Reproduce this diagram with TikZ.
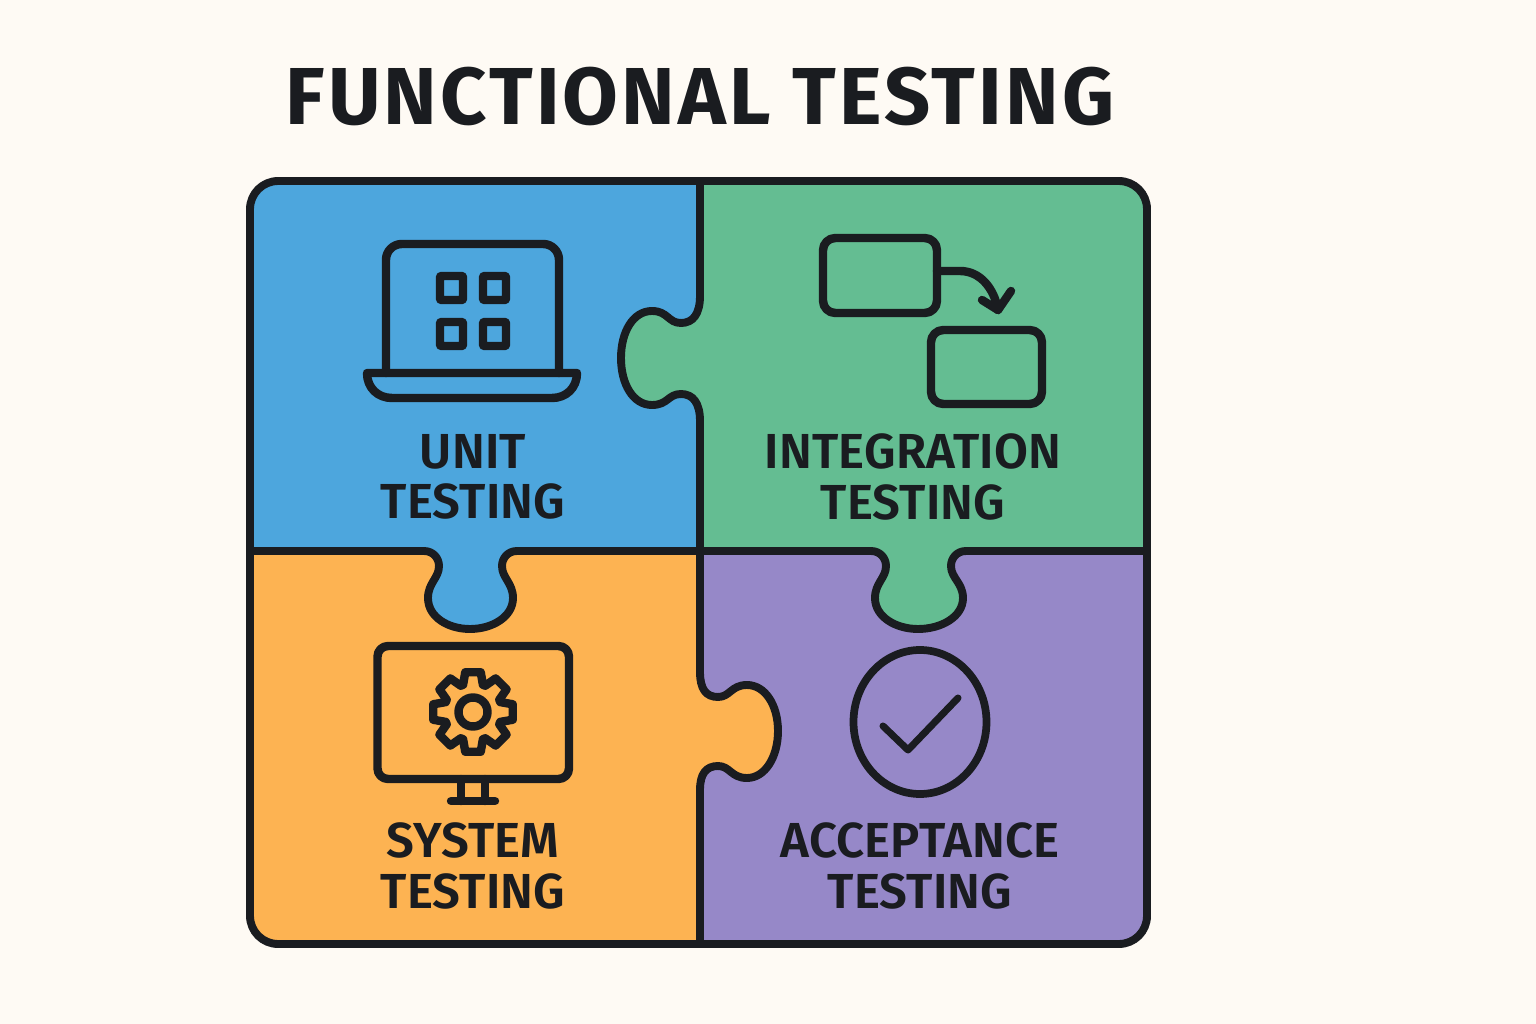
\documentclass[tikz,border=0pt]{standalone}
\usepackage{fontspec}
\setmainfont{Fira Sans}[BoldFont={Fira Sans SemiBold}]
\newfontfamily\titlefont{Fira Sans}[LetterSpace=3.8]
\usepackage{xcolor}
\definecolor{pagebg}{HTML}{FEFAF4}
\definecolor{ink}{HTML}{1A1C20}
\definecolor{unitblue}{HTML}{4DA6DD}
\definecolor{integgreen}{HTML}{64BD92}
\definecolor{systemorange}{HTML}{FDB352}
\definecolor{acceptpurple}{HTML}{9688C8}
\tikzset{
  outline/.style={draw=ink, line width=4.5pt, line join=round},
  icon/.style={draw=ink, line width=4.8pt, line join=round, line cap=round},
  heading/.style={text=ink, font=\fontsize{46}{46}\titlefont\bfseries},
  piecelabel/.style={text=ink, align=center, font=\fontsize{28}{28.5}\selectfont\bfseries\addfontfeature{LetterSpace=0.4}}
}
\def\tabright{(700,296) .. controls (700,314) and (693,323) .. (681,323) .. controls (668,323) and (668,311) .. (652,311) .. controls (633,311) and (621,332) .. (621,358) .. controls (621,384) and (633,405) .. (652,405) .. controls (668,405) and (668,394) .. (681,394) .. controls (693,394) and (700,403) .. (700,421)}
\def\tabblue{(424,551) .. controls (433,551) and (439,558) .. (439,566) .. controls (439,578) and (428,583) .. (428,598) .. controls (428,617) and (448,629) .. (470,629) .. controls (492,629) and (513,617) .. (513,598) .. controls (513,583) and (502,578) .. (502,566) .. controls (502,558) and (508,551) .. (517,551)}
\def\tabgreen{(871,551) .. controls (880,551) and (886,558) .. (886,566) .. controls (886,578) and (875,583) .. (875,598) .. controls (875,617) and (896,629) .. (918,629) .. controls (941,629) and (963,617) .. (963,598) .. controls (963,583) and (951,578) .. (951,566) .. controls (951,558) and (957,551) .. (966,551)}
\def\taborange{(700,672) .. controls (700,689) and (706,697) .. (718,697) .. controls (730,697) and (731,685) .. (747,685) .. controls (765,685) and (778,705) .. (778,731) .. controls (778,757) and (765,778) .. (747,778) .. controls (731,778) and (730,766) .. (718,766) .. controls (706,766) and (700,774) .. (700,790)}
\begin{document}
\begin{tikzpicture}[x=0.02cm, y=-0.02cm]
\useasboundingbox (0,0) rectangle (1536,1024);
\fill[pagebg] (0,0) rectangle (1536,1024);
\node[heading] (title) at (700,96) {FUNCTIONAL TESTING};
% pieces
\begin{scope}
\clip[rounded corners=16pt] (250,181) rectangle (1147,944);
\fill[unitblue] (250,181) rectangle (700,551);
\fill[integgreen] (700,181) rectangle (1147,551);
\fill[systemorange] (250,551) rectangle (700,944);
\fill[acceptpurple] (700,551) rectangle (1147,944);
\end{scope}
\fill[integgreen] \tabright -- cycle;
\fill[unitblue] \tabblue -- cycle;
\fill[integgreen] \tabgreen -- cycle;
\fill[systemorange] \taborange -- cycle;
% seams
\draw[outline] (700,181) -- \tabright -- (700,551) -- \taborange -- (700,944);
\draw[outline] (250,551) -- \tabblue -- (700,551) -- \tabgreen -- (1147,551);
\draw[outline, rounded corners=16pt] (250,181) rectangle (1147,944);
% laptop
\draw[icon, rounded corners=9pt] (386,373) -- (386,244) -- (559,244) -- (559,373);
\draw[icon] (367,373) -- (577,373) .. controls (577,388) and (566,398) .. (552,398) -- (392,398) .. controls (378,398) and (367,388) .. (367,373) -- cycle;
\foreach \px in {440,483}
  \foreach \py in {276,322}
    \draw[icon, rounded corners=0.5pt] (\px,\py) rectangle ++(23,24);
% boxes and arrow
\draw[icon, rounded corners=7pt] (823,238) rectangle (937,313);
\draw[icon, rounded corners=7pt] (931,330) rectangle (1042,404);
\draw[icon] (937,271) -- (960,271) .. controls (980,271) and (994,288) .. (998,310);
\draw[icon] (982,300) -- (998,310) -- (1011,291);
% monitor and gear
\draw[icon, rounded corners=6pt] (377.5,646) rectangle (569,779);
\draw[icon] (461,779) -- (461,801);
\draw[icon] (485,779) -- (485,801);
\draw[icon] (451,801) -- (495,801);
\begin{scope}[shift={(473,712)}]
\draw[icon] (14.5,0) arc (0:360:14.5);
\draw[icon] (-20:29)
  \foreach \ang in {0,45,...,315} { -- (\ang-20:29) -- (\ang-11:40.5) -- (\ang+11:40.5) -- (\ang+20:29) } -- cycle;
\end{scope}
% check
\draw[icon, line width=4.4pt] (920,722) ellipse (66.5 and 72);
\draw[icon, line width=4pt] (883,726) -- (908,750) -- (958,698);
% labels
\node[piecelabel] (unit) at (473,477) {UNIT\\TESTING};
\node[piecelabel] (integration) at (913,477) {INTEGRATION\\TESTING};
\node[piecelabel] (system) at (473,866) {SYSTEM\\TESTING};
\node[piecelabel] (acceptance) at (920,866) {ACCEPTANCE\\TESTING};
\end{tikzpicture}
\end{document}
